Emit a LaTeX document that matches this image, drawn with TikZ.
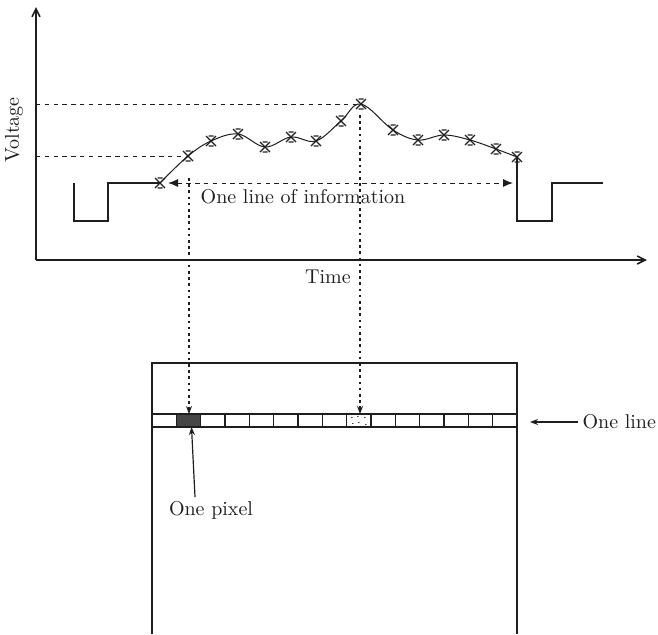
\documentclass[tikz,border=0pt]{standalone}
\usepackage{tikz}
\usetikzlibrary{arrows.meta, positioning, calc, patterns}
\definecolor{ink}{RGB}{30,30,30}
\definecolor{pixelfill}{RGB}{70,70,70}

\begin{document}
\begin{tikzpicture}[x=0.5pt, y=-0.5pt, ink, line width=0.6pt,
    axisline/.style={line width=0.8pt, -{Straight Barb[length=4pt,width=4pt]}},
    guide/.style={dashed, dash pattern=on 2.2pt off 2.2pt, line width=0.5pt},
    probe/.style={dash pattern=on 1.3pt off 1.8pt, line width=0.6pt, -{Stealth[length=4pt,width=3pt]}},
    samplemark/.style={line width=0.55pt},
    cellbox/.style={draw, minimum width=12.17pt, minimum height=6.5pt, inner sep=0pt, outer sep=0pt},
    lbl/.style={font=\normalsize, inner sep=2pt}]
  \useasboundingbox (0,0) rectangle (658,634);
  % axes
  \coordinate (O) at (36,260);
  \coordinate (ytop) at (36,7);
  \coordinate (xend) at (647,260);
  \draw[axisline] (O) -- (ytop);
  \draw[axisline] (O) -- (xend);
  \node[lbl, rotate=90] (volt) at (14,130) {Voltage};
  \node[lbl] (time) at (328,277) {Time};
  % samples along one line
  \foreach \n/\p in {1/{160,183}, 2/{188,156}, 3/{211,141}, 4/{238,134}, 5/{265,147},
                     6/{291,137}, 7/{316,141}, 8/{341,121}, 9/{361,104}, 10/{393,130},
                     11/{418,140}, 12/{444,135}, 13/{470,140}, 14/{496,149}, 15/{517,157}}
    \coordinate (s\n) at (\p);
  \draw[line width=0.5pt] plot[smooth, tension=0.6] coordinates {(s1) (s2) (s3) (s4) (s5) (s6) (s7) (s8)
    (s9) (s10) (s11) (s12) (s13) (s14) (s15)};
  \foreach \n in {1,...,15}
    \draw[samplemark] (s\n) +(-5,-5) -- +(5,5) +(-5,5) -- +(5,-5) +(-2.5,-5) -- +(2.5,-5) +(-2.5,5) -- +(2.5,5);
  % sync pulses
  \draw (74,183) -- (74,221) -- (108,221) -- (108,183) -- (s1);
  \draw (s15) -- (517,221) -- (552,221) -- (552,183) -- (603,183);
  % level guides
  \draw[guide] (36,104) -- (s9);
  \draw[guide] (36,156) -- (s2);
  % one line of information
  \coordinate (infoL) at (168,183);
  \coordinate (infoR) at (513,183);
  \draw[guide, {Latex[length=5pt,width=4pt]}-{Latex[length=5pt,width=4pt]}] (infoL) -- (infoR);
  \node[lbl] (info) at (303,197) {One line of information};
  % screen
  \draw (152,634) -- (152,363) -- (517,363) -- (517,634);
  \foreach \i in {0,...,14}
    \node[cellbox] (c\i) at ({152+24.333*(\i+0.5)},420.5) {};
  \fill[pixelfill] (c1.north west) rectangle (c1.south east);
  \draw (c1.north west) rectangle (c1.south east);
  \foreach \d in {{-7,-3},{-1,-4},{6,-3},{-6,3},{0,2},{7,4}}
    \fill ($(c8)+(\d)$) circle (0.35pt);
  % samples mapped to pixels
  \coordinate (tapA) at (189,178);
  \coordinate (tapB) at (360,115);
  \draw[probe] (tapA) -- (tapA |- c1.north);
  \draw[probe] (tapB) -- (tapB |- c8.north);
  % labels
  \node[lbl, anchor=west] (oneline) at (578,422) {One line};
  \coordinate (lineTip) at (530,422);
  \draw[-{Stealth[length=4pt,width=3pt]}] (oneline.west) -- (lineTip);
  \node[lbl] (pixel) at (211,510) {One pixel};
  \coordinate (pixTail) at (195,497);
  \draw[-{Stealth[length=4pt,width=3pt]}] (pixTail) -- ([xshift=1.5pt]c1.south);
\end{tikzpicture}
\end{document}
